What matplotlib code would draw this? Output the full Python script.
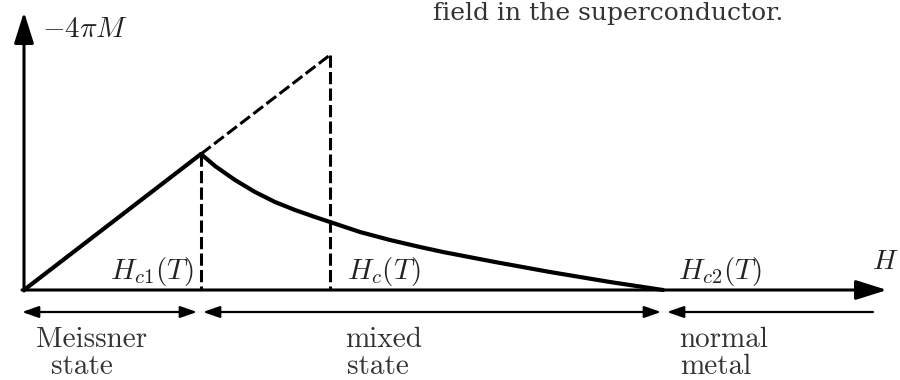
import matplotlib.pyplot as plt

plt.rcParams['mathtext.fontset'] = 'cm'

# critical fields and magnetisation (H along x, -4piM along y)
Hc1, Hc, Hc2 = 177, 306, 639
M_c1, M_c = 136, 235

# Meissner state: linear rise up to Hc1
H_meissner = [0, Hc1]
M_meissner = [0, M_c1]

# mixed state: decay from Hc1 down to Hc2
H_mixed = [177, 191, 211, 231, 251, 271, 291, 306, 336, 366, 396, 419, 471, 526, 586, 639]
M_mixed = [136, 124, 110, 98, 88, 80, 73, 68, 58, 50, 43, 38, 28, 18, 8, 0]

# type I behaviour continued up to Hc (dashed)
H_ext = [Hc1, Hc]
M_ext = [M_c1, M_c]

field_labels = [r'$H_{c1}(T)$', r'$H_c(T)$', r'$H_{c2}(T)$']
state_labels = [('Meissner', 'state'), ('mixed', 'state'), ('normal', 'metal')]

fig = plt.figure(figsize=(9, 3.8), dpi=100)
ax = fig.add_axes([0, 0, 1, 1])
ax.set_xlim(-24, 876)
ax.set_ylim(-90, 290)
ax.axis('off')

# axes with arrow heads
big_head = dict(arrowstyle='-|>,head_length=1.9,head_width=0.6', lw=2.2,
                color='k', shrinkA=0, shrinkB=0)
ax.annotate('', xy=(0, 278), xytext=(0, -1), arrowprops=big_head)
ax.annotate('', xy=(863, 0), xytext=(-2, 0), arrowprops=big_head)

# magnetisation curve
ax.plot(H_meissner, M_meissner, color='k', lw=3, solid_capstyle='round')
ax.plot(H_mixed, M_mixed, color='k', lw=3, solid_capstyle='round',
        solid_joinstyle='round')

# dashed guides
dash = dict(color='k', lw=2.2, dashes=(4, 1.4))
ax.plot(H_ext, M_ext, **dash)
ax.plot([Hc1, Hc1], [M_c1, 0], **dash)
ax.plot([Hc, Hc], [M_c, 0], **dash)

# range arrows below the axis
y_rng = -22
small = 'head_length=1.0,head_width=0.35'
rng = dict(lw=1.6, color='k', shrinkA=0, shrinkB=0)
ax.annotate('', xy=(Hc1 - 4, y_rng), xytext=(-2, y_rng),
            arrowprops=dict(arrowstyle='<|-|>,' + small, **rng))
ax.annotate('', xy=(Hc2 - 2, y_rng), xytext=(Hc1 + 2, y_rng),
            arrowprops=dict(arrowstyle='<|-|>,' + small, **rng))
ax.annotate('', xy=(849, y_rng), xytext=(Hc2 + 4, y_rng),
            arrowprops=dict(arrowstyle='<|-,' + small, **rng))

# field labels on the axis
lab = dict(fontsize=21, color='#222222', va='bottom')
ax.text(Hc1 - 7, 2, field_labels[0], ha='right', **lab)
ax.text(Hc + 17, 2, field_labels[1], ha='left', **lab)
ax.text(Hc2 + 15, 2, field_labels[2], ha='left', **lab)
ax.text(848, 29, r'$H$', ha='left', va='center', fontsize=20, color='#222222')
ax.text(18, 261, r'$-4\pi M$', ha='left', va='center', fontsize=21, color='#222222')

# state names
words = dict(fontsize=21, family='cmr10', color='#333333')
ax.text(68, -57, state_labels[0][0], ha='center', va='baseline', **words)
ax.text(58, -89.5, state_labels[0][1], ha='center', va='bottom', **words)
ax.text(321, -57, state_labels[1][0], ha='left', va='baseline', **words)
ax.text(323, -89.5, state_labels[1][1], ha='left', va='bottom', **words)
ax.text(655, -57, state_labels[2][0], ha='left', va='baseline', **words)
ax.text(656, -89.5, state_labels[2][1], ha='left', va='bottom', **words)

# caption fragment at the top
ax.text(409, 270, 'field in the superconductor.', family='DejaVu Serif',
        fontsize=18, color='#333333', ha='left', va='baseline')

fig.savefig('out.png', dpi=100)
